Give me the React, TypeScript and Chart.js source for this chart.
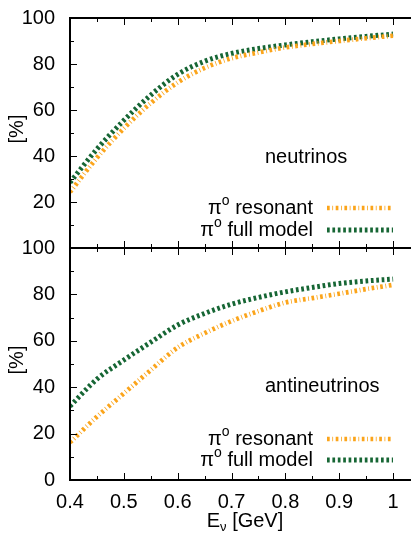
import React, { useEffect, useRef } from 'react';
import { Chart, registerables } from 'chart.js';
Chart.register(...registerables);

const FONT = "'Liberation Sans', Arial, Helvetica, sans-serif";

// Data
const energies = [0.4, 0.45, 0.5, 0.55, 0.6, 0.65, 0.7, 0.75, 0.8, 0.85, 0.9, 0.95, 1.0];
const nuResonant = [24.3, 39.2, 52, 63, 72, 78.3, 82.5, 85, 87.2, 88.7, 90, 91.2, 92.3];
const nuFull = [28.5, 43, 55.5, 66.5, 75.5, 81.2, 84.6, 86.7, 88.3, 89.7, 90.9, 92, 93];
const antiResonant = [16.2, 27.3, 37.3, 47.4, 57.1, 63.3, 68.5, 72.8, 76.5, 78.4, 80.3, 82.3, 84.1];
const antiFull = [31.8, 43.5, 51.7, 59.4, 66.8, 71.8, 75.8, 78.7, 81.1, 83, 84.7, 85.8, 86.6];
const xTickLabels = ['0.4', '0.5', '0.6', '0.7', '0.8', '0.9', '1'];
const yTickLabels = ['0', '20', '40', '60', '80', '100'];
const seriesNames = ['resonant', 'full model'];
const panelNames = ['neutrinos', 'antineutrinos'];

const ORANGE = 'rgb(251,164,26)';
const GREEN = 'rgb(22,102,52)';

function pts(ys: number[]) {
  return energies.map((e, i) => ({ x: e, y: ys[i] }));
}

function drawPiLabel(ctx: CanvasRenderingContext2D, text: string, rightX: number, y: number) {
  ctx.font = `20px ${FONT}`;
  const wPi = ctx.measureText('π').width;
  const rest = ' ' + text;
  const wRest = ctx.measureText(rest).width;
  ctx.font = `14px ${FONT}`;
  const wO = ctx.measureText('o').width;
  const start = rightX - (wPi + wO + wRest);
  const base = y + 6;
  ctx.textAlign = 'left';
  ctx.textBaseline = 'alphabetic';
  ctx.fillStyle = '#000';
  ctx.font = `20px ${FONT}`;
  ctx.fillText('π', start, base);
  ctx.font = `14px ${FONT}`;
  ctx.fillText('o', start + wPi, base - 9);
  ctx.font = `20px ${FONT}`;
  ctx.fillText(rest, start + wPi + wO, base);
}

function makePlugin(panelName: string, nameUp: number, legendUp: number[], withXTitle: boolean) {
  return {
    id: 'frameAndText',
    afterDraw(chart: any) {
      const { ctx, chartArea: a, scales } = chart;
      const xs = scales.x;
      const ys = scales.y;
      ctx.save();
      ctx.setLineDash([]);
      ctx.lineDashOffset = 0;
      ctx.globalAlpha = 1;
      ctx.fillStyle = '#000';
      // frame
      const L = Math.round(a.left), R = Math.round(a.right), T = Math.round(a.top), B = Math.round(a.bottom);
      ctx.fillRect(L - 1, T - 1, R - L + 2, 2);
      ctx.fillRect(L - 1, B - 1, R - L + 2, 2);
      ctx.fillRect(L - 1, T - 1, 2, B - T + 2);
      ctx.fillRect(R - 1, T - 1, 2, B - T + 2);
      // inside ticks
      for (let i = 0; i <= 13; i++) {
        const v = 0.4 + i * 0.05;
        const px = Math.round(xs.getPixelForValue(v));
        const len = i % 2 === 0 ? 7 : 4;
        ctx.fillRect(px, T, 1, len);
        ctx.fillRect(px, B - len, 1, len);
      }
      for (let i = 0; i <= 10; i++) {
        const v = i * 10;
        const py = Math.round(ys.getPixelForValue(v));
        const len = i % 2 === 0 ? 7 : 4;
        ctx.fillRect(L, py, len, 1);
        ctx.fillRect(R - len, py, len, 1);
      }

      // panel name
      ctx.font = `20px ${FONT}`;
      ctx.textAlign = 'left';
      ctx.textBaseline = 'middle';
      ctx.fillText(panelName, 257, B - nameUp);

      // legend
      chart.data.datasets.forEach((ds: any, i: number) => {
        const y = B - legendUp[i];
        drawPiLabel(ctx, seriesNames[i], 305, y);
        ctx.save();
        ctx.strokeStyle = ds.borderColor;
        ctx.lineWidth = ds.borderWidth;
        ctx.lineCap = 'butt';
        ctx.setLineDash(ds.borderDash);
        ctx.beginPath();
        ctx.moveTo(319, y);
        ctx.lineTo(385, y);
        ctx.stroke();
        ctx.restore();
      });

      // y title
      ctx.save();
      ctx.translate(9.5, (T + B) / 2 - 4);
      ctx.rotate(-Math.PI / 2);
      ctx.font = `20px ${FONT}`;
      ctx.textAlign = 'center';
      ctx.textBaseline = 'middle';
      ctx.fillStyle = '#000';
      ctx.fillText('[%]', 0, 0);
      ctx.restore();

      // x title
      if (withXTitle) {
        ctx.font = `20px ${FONT}`;
        const wE = ctx.measureText('E').width;
        const rest = ' [GeV]';
        const wR = ctx.measureText(rest).width;
        ctx.font = `13px ${FONT}`;
        const wNu = ctx.measureText('ν').width;
        const cx = (L + R) / 2;
        const start = cx - (wE + wNu + wR) / 2;
        const base = 287;
        ctx.textAlign = 'left';
        ctx.textBaseline = 'alphabetic';
        ctx.font = `20px ${FONT}`;
        ctx.fillText('E', start, base);
        ctx.font = `13px ${FONT}`;
        ctx.fillText('ν', start + wE, base + 4);
        ctx.font = `20px ${FONT}`;
        ctx.fillText(rest, start + wE + wNu, base);
      }
      ctx.restore();
    },
  };
}

function zeroPad(s: any) {
  s.paddingTop = 0;
  s.paddingBottom = 0;
  s.paddingLeft = 0;
  s.paddingRight = 0;
}

function makeConfig(resonant: number[], full: number[], isBottom: boolean): any {
  const panelName = isBottom ? panelNames[1] : panelNames[0];
  return {
    type: 'line',
    data: {
      datasets: [
        {
          label: seriesNames[0],
          data: pts(resonant),
          borderColor: ORANGE,
          borderWidth: 4.7,
          borderDash: [2.7, 2.6, 0.8, 2.6],
          borderCapStyle: 'butt',
          pointRadius: 0,
          fill: false,
          cubicInterpolationMode: 'monotone',
        },
        {
          label: seriesNames[1],
          data: pts(full),
          borderColor: GREEN,
          borderWidth: 5,
          borderDash: [2.7, 2.7],
          borderCapStyle: 'butt',
          pointRadius: 0,
          fill: false,
          cubicInterpolationMode: 'monotone',
        },
      ],
    },
    options: {
      responsive: false,
      maintainAspectRatio: false,
      animation: false,
      layout: { padding: isBottom ? { left: 0, right: 2, top: 8, bottom: 0 } : { left: 0, right: 2, top: 10, bottom: 10 } },
      plugins: { legend: { display: false }, tooltip: { enabled: false } },
      scales: {
        x: {
          type: 'linear',
          min: 0.4,
          max: 1.05,
          grid: { display: false, drawTicks: false },
          border: { display: false },
          ticks: {
            display: isBottom,
            stepSize: 0.1,
            includeBounds: false,
            autoSkip: false,
            maxRotation: 0,
            padding: 10,
            color: '#000',
            font: { family: FONT, size: 20 },
            callback: (v: number) => {
              const idx = Math.round((v - 0.4) * 10);
              if (Math.abs(v - (0.4 + idx * 0.1)) > 1e-6) return '';
              return xTickLabels[idx] ?? '';
            },
          },
          afterFit: (s: any) => {
            s.height = isBottom ? 57 : 0;
            zeroPad(s);
          },
        },
        y: {
          type: 'linear',
          min: 0,
          max: 100,
          grid: { display: false, drawTicks: false },
          border: { display: false },
          ticks: {
            stepSize: 20,
            autoSkip: false,
            padding: 15,
            color: '#000',
            font: { family: FONT, size: 20 },
            callback: (v: number) => {
              const idx = Math.round(v / 20);
              if (!isBottom && idx === 0) return '';
              return yTickLabels[idx] ?? '';
            },
          },
          afterFit: (s: any) => {
            s.width = 62;
            zeroPad(s);
          },
        },
      },
    },
    plugins: [makePlugin(panelName, isBottom ? 94 : 91, isBottom ? [41, 20] : [40, 18], isBottom)],
  };
}

export default function App() {
  const topRef = useRef<HTMLCanvasElement>(null);
  const botRef = useRef<HTMLCanvasElement>(null);
  useEffect(() => {
    const c1 = new Chart(topRef.current as HTMLCanvasElement, makeConfig(nuResonant, nuFull, false));
    const c2 = new Chart(botRef.current as HTMLCanvasElement, makeConfig(antiResonant, antiFull, true));
    return () => {
      c1.destroy();
      c2.destroy();
    };
  }, []);
  return (
    <div style={{ position: 'relative', width: 411, height: 529, overflow: 'hidden', background: '#fff' }}>
      <canvas
        ref={topRef}
        width={414}
        height={250}
        style={{ position: 'absolute', left: 0, top: 0, width: 414, height: 250 }}
      />
      <canvas
        ref={botRef}
        width={414}
        height={297}
        style={{ position: 'absolute', left: 0, top: 232, width: 414, height: 297 }}
      />
    </div>
  );
}
